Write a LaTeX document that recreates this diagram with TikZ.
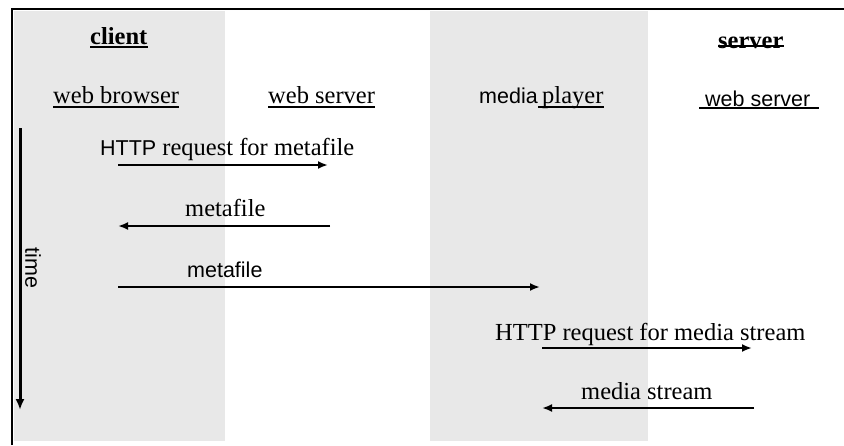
\documentclass[tikz,border=0pt]{standalone}
\usepackage{fontspec}
\setmainfont{Liberation Serif}
\setsansfont{Liberation Sans}
\usetikzlibrary{arrows.meta}
\begin{document}
\begin{tikzpicture}[x=1pt,y=-1pt,
  lbl/.style={inner sep=0pt,anchor=base west,font=\fontsize{24.5}{28}\selectfont},
  slbl/.style={inner sep=0pt,anchor=base west,font=\fontsize{21.5}{26}\selectfont\sffamily},
  ul/.style={line width=1.3pt},
  msg/.style={line width=2.2pt,-{Latex[length=10pt,width=8pt]}},
  shade/.style={fill=black!9,draw=none},
  frame/.style={line width=2pt}]
\useasboundingbox (0,0) rectangle (844,445);
% shaded bands
\fill[shade] (14,11) rectangle (225,441);
\fill[shade] (430,11) rectangle (648,441);
% frame
\draw[frame] (12,445) -- (12,9) -- (844,9);
% headings
\node[lbl,font=\fontsize{24.5}{28}\selectfont\bfseries] (client) at (90,44) {client};
\node[lbl,font=\fontsize{24.5}{28}\selectfont\bfseries] (server) at (718,48) {server};
\node[lbl] (browser) at (53,103) {web browser};
\node[lbl] (wsA) at (268,103) {web server};
\node[slbl] (media) at (479,103) {media};
\node[lbl] (player) at (media.base east) {\,player};
\node[slbl] (wsB) at (705,106) {web server};
% underlines
\draw[ul] ([yshift=-3pt]client.base west) -- ([yshift=-3pt]client.base east);
\draw[ul] ([yshift=2pt]server.base west) -- ([yshift=2pt]server.base east);
\draw[ul] ([yshift=-4pt]browser.base west) -- ([yshift=-4pt]browser.base east);
\draw[ul] ([yshift=-4pt]wsA.base west) -- ([yshift=-4pt]wsA.base east);
\draw[ul] ([yshift=-4pt]player.base west) -- ([yshift=-4pt]player.base east);
\draw[ul] ([xshift=-6pt,yshift=-2pt]wsB.base west) -- ([xshift=8pt,yshift=-2pt]wsB.base east);
% message labels
\node[lbl] (l1) at (100,155) {{\fontsize{21.5}{26}\selectfont\sffamily HTTP} request for metafile};
\node[lbl] (l2) at (185,216) {metafile};
\node[slbl] (l3) at (187,277) {metafile};
\node[lbl] (l4) at (495,340) {HTTP request for media stream};
\node[lbl] (l5) at (581,399) {media stream};
\node[inner sep=0pt,rotate=-90,font=\fontsize{21.5}{26}\selectfont\sffamily] (time) at (33,268) {time};
% endpoints
\coordinate (c1) at (118,165); \coordinate (s1) at (328,165);
\coordinate (s2) at (330,226); \coordinate (c2) at (118,226);
\coordinate (c3) at (118,287); \coordinate (m3) at (540,287);
\coordinate (m4) at (542,348); \coordinate (w4) at (752,348);
\coordinate (w5) at (754,408); \coordinate (m5) at (542,408);
\coordinate (t0) at (20,128); \coordinate (t1) at (20,410);
% messages
\draw[msg] (c1) -- (s1);
\draw[msg] (s2) -- (c2);
\draw[msg] (c3) -- (m3);
\draw[msg] (m4) -- (w4);
\draw[msg] (w5) -- (m5);
\draw[line width=3pt,-{Latex[length=11pt,width=9pt]}] (t0) -- (t1);
\end{tikzpicture}
\end{document}
